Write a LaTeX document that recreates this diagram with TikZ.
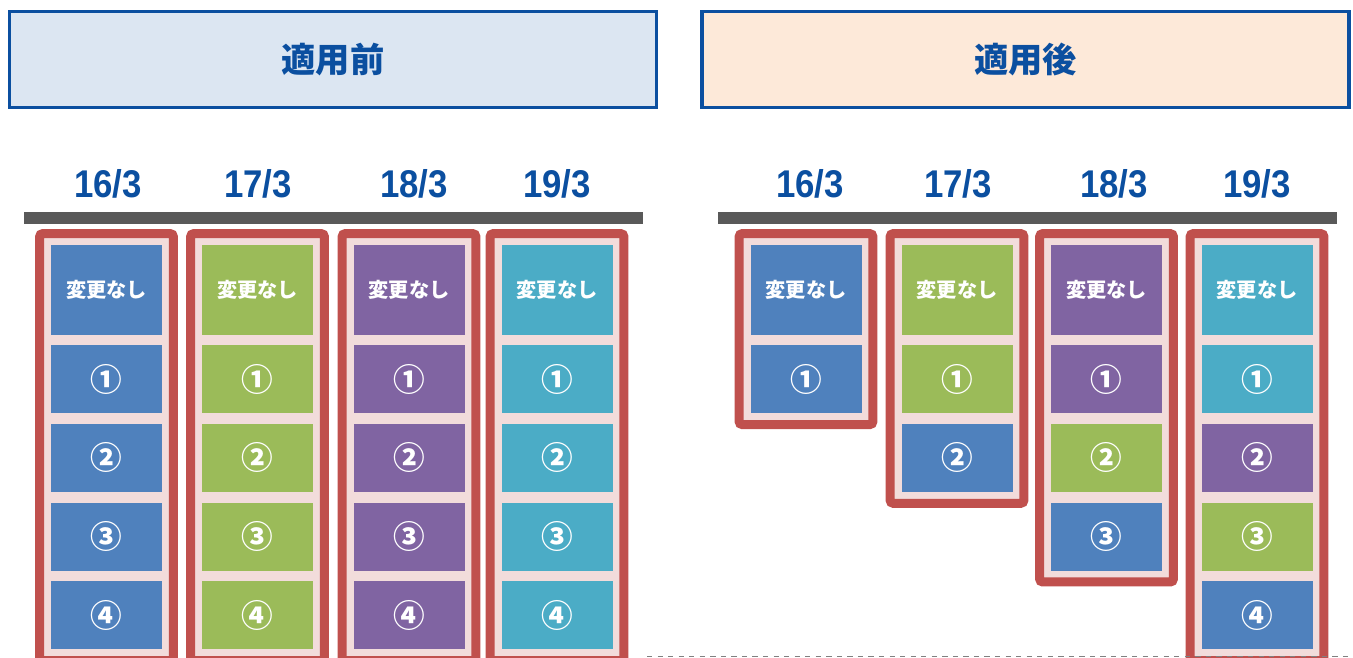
\documentclass[tikz,border=0pt]{standalone}
\usepackage{fontspec}
\newfontfamily\jpfont{Noto Sans CJK JP}
\newfontfamily\datefont{Liberation Sans}[FakeStretch=0.9]
\usetikzlibrary{positioning,fit,backgrounds}
\definecolor{cblue}{HTML}{4F81BD}
\definecolor{cgreen}{HTML}{9BBB59}
\definecolor{cpurple}{HTML}{8064A2}
\definecolor{cteal}{HTML}{4BACC6}
\definecolor{fred}{HTML}{C0504D}
\definecolor{fpink}{HTML}{F2DCDB}
\definecolor{hdblue}{HTML}{0B4FA0}
\definecolor{hdbefore}{HTML}{DCE6F2}
\definecolor{hdafter}{HTML}{FDE9D9}
\definecolor{bargray}{HTML}{595959}
\begin{document}
\begin{tikzpicture}
  \tikzset{hdrbox/.style={draw=hdblue,line width=0.075cm,minimum
      width=12.94cm,minimum height=1.92cm,text=hdblue,
      font=\jpfont\bfseries\fontsize{19.5}{19.5}\selectfont},
    daylbl/.style={text=hdblue,font=\datefont\bfseries\fontsize{22}{22}\selectfont},
    tbar/.style={fill=bargray},
    cell/.style={minimum width=2.22cm,minimum height=1.36cm,inner
      sep=0pt,text=white,font=\jpfont\bfseries\fontsize{18}{18}\selectfont},
    nochg/.style={cell,minimum height=1.8cm,
      font=\jpfont\bfseries\fontsize{11.5}{11.5}\selectfont},
    wrap/.style={draw=fred,fill=fpink,line width=0.18cm,rounded
      corners=0.06cm,inner sep=0.22cm}}
  \path[use as bounding box,clip] (0,0) rectangle (27.06,-13.14);

  \node[hdrbox,fill=hdbefore] (before) at (6.66,-1.19) {適用前};
  \node[hdrbox,fill=hdafter] (after) at (20.51,-1.19) {適用後};

  \node[daylbl] (dA) at (2.16,-3.68) {16/3};
  \node[daylbl] (dB) at (5.16,-3.68) {17/3};
  \node[daylbl] (dC) at (8.28,-3.68) {18/3};
  \node[daylbl] (dD) at (11.14,-3.68) {19/3};
  \node[daylbl] (dE) at (16.2,-3.68) {16/3};
  \node[daylbl] (dF) at (19.16,-3.68) {17/3};
  \node[daylbl] (dG) at (22.28,-3.68) {18/3};
  \node[daylbl] (dH) at (25.14,-3.68) {19/3};

  \fill[tbar] (0.48,-4.24) rectangle (12.86,-4.48);
  \fill[tbar] (14.36,-4.24) rectangle (26.74,-4.48);

  % before
  \node[nochg,fill=cblue] (A0) at (2.13,-5.8) {変更なし};
  \node[cell,fill=cblue,below=0.19cm of A0] (A1) {①};
  \node[cell,fill=cblue,below=0.2cm of A1] (A2) {②};
  \node[cell,fill=cblue,below=0.2cm of A2] (A3) {③};
  \node[cell,fill=cblue,below=0.2cm of A3] (A4) {④};

  \node[nochg,fill=cgreen] (B0) at (5.15,-5.8) {変更なし};
  \node[cell,fill=cgreen,below=0.19cm of B0] (B1) {①};
  \node[cell,fill=cgreen,below=0.2cm of B1] (B2) {②};
  \node[cell,fill=cgreen,below=0.2cm of B2] (B3) {③};
  \node[cell,fill=cgreen,below=0.2cm of B3] (B4) {④};

  \node[nochg,fill=cpurple] (C0) at (8.18,-5.8) {変更なし};
  \node[cell,fill=cpurple,below=0.19cm of C0] (C1) {①};
  \node[cell,fill=cpurple,below=0.2cm of C1] (C2) {②};
  \node[cell,fill=cpurple,below=0.2cm of C2] (C3) {③};
  \node[cell,fill=cpurple,below=0.2cm of C3] (C4) {④};

  \node[nochg,fill=cteal] (D0) at (11.14,-5.8) {変更なし};
  \node[cell,fill=cteal,below=0.19cm of D0] (D1) {①};
  \node[cell,fill=cteal,below=0.2cm of D1] (D2) {②};
  \node[cell,fill=cteal,below=0.2cm of D2] (D3) {③};
  \node[cell,fill=cteal,below=0.2cm of D3] (D4) {④};

  % after
  \node[nochg,fill=cblue] (E0) at (16.12,-5.8) {変更なし};
  \node[cell,fill=cblue,below=0.19cm of E0] (E1) {①};

  \node[nochg,fill=cgreen] (F0) at (19.14,-5.8) {変更なし};
  \node[cell,fill=cgreen,below=0.19cm of F0] (F1) {①};
  \node[cell,fill=cblue,below=0.2cm of F1] (F2) {②};

  \node[nochg,fill=cpurple] (G0) at (22.13,-5.8) {変更なし};
  \node[cell,fill=cpurple,below=0.19cm of G0] (G1) {①};
  \node[cell,fill=cgreen,below=0.2cm of G1] (G2) {②};
  \node[cell,fill=cblue,below=0.2cm of G2] (G3) {③};

  \node[nochg,fill=cteal] (H0) at (25.14,-5.8) {変更なし};
  \node[cell,fill=cteal,below=0.19cm of H0] (H1) {①};
  \node[cell,fill=cpurple,below=0.2cm of H1] (H2) {②};
  \node[cell,fill=cgreen,below=0.2cm of H2] (H3) {③};
  \node[cell,fill=cblue,below=0.2cm of H3] (H4) {④};

  \begin{scope}[on background layer]
    \node[wrap,fit=(A0)(A4)] (fA) {}; \node[wrap,fit=(B0)(B4)] (fB) {};
    \node[wrap,fit=(C0)(C4)] (fC) {}; \node[wrap,fit=(D0)(D4)] (fD) {};
    \node[wrap,fit=(E0)(E1)] (fE) {}; \node[wrap,fit=(F0)(F2)] (fF) {};
    \node[wrap,fit=(G0)(G3)] (fG) {}; \node[wrap,fit=(H0)(H4)] (fH) {};
  \end{scope}

  \draw[dashed,gray] (12.94,-13.12) -- (27.06,-13.12);
\end{tikzpicture}
\end{document}
